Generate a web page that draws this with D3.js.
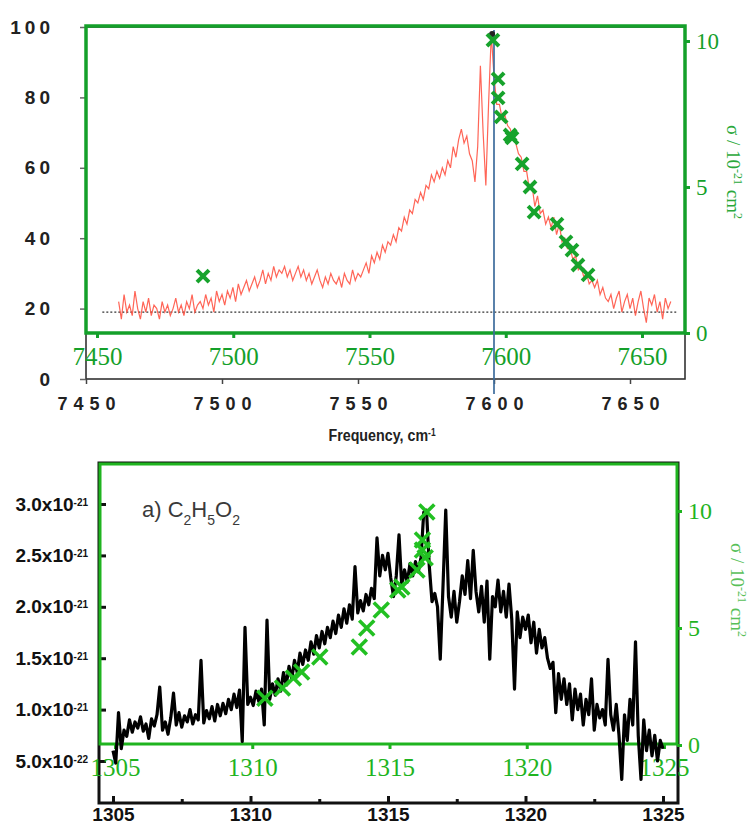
<!DOCTYPE html>
<html><head><meta charset="utf-8">
<script src="https://cdn.jsdelivr.net/npm/d3@7"></script>
<style>
body{margin:0;background:#fff}
svg{display:block}
</style></head><body>
<svg id="chart" width="749" height="825"></svg>
<script>
// ---- top panel: NIR spectrum (arb. units) + cross sections ----
const topYTicks = [0, 20, 40, 60, 80, 100]
const topFreqTicks = [7450, 7500, 7550, 7600, 7650]
const sigmaTicks = [0, 5, 10]
const redStart = 7462   // cm-1, one value per cm-1
const redValues = [
  22, 17, 24, 19, 21, 18, 25, 20, 17, 22,
  19, 23, 18, 21, 20, 17, 22, 19, 21, 18,
  20, 23, 19, 21, 18, 22, 20, 24, 19, 21,
  22, 20, 24, 21, 23, 19, 25, 22, 24, 21,
  25, 23, 26, 22, 27, 24, 26, 28, 25, 27,
  29, 26, 28, 31, 27, 30, 28, 32, 29, 31,
  30, 32, 29, 31, 28, 30, 32, 29, 31, 28,
  30, 27, 29, 31, 28, 26, 29, 27, 30, 28,
  27, 29, 26, 30, 28, 27, 31, 28, 30, 29,
  31, 33, 30, 35, 33, 36, 34, 38, 36, 39,
  38, 41, 39, 43, 42, 46, 44, 48, 47, 51,
  50, 53, 51, 55, 54, 58, 56, 59, 57, 60,
  58, 62, 60, 66, 63, 68, 71, 67, 69, 64,
  62, 56, 66, 89, 70, 55, 78, 98, 86, 78,
  78, 74, 75, 72, 71, 68, 67, 64, 63, 59,
  59, 54, 55, 49, 52, 47, 48, 44, 46, 43,
  46, 41, 44, 39, 40, 37, 37, 34, 35, 31,
  32, 29, 30, 27, 28, 26, 28, 24, 26, 23,
  22, 24, 20, 23, 25, 19, 22, 24, 20, 23,
  18, 22, 25, 20, 16, 23, 21, 24, 19, 22,
  17, 23, 20, 22
]
const baselineLevel = 19
const markerFreq = 7600
const peakDot = {f: 7599.3, v: 98}
const topCrossFreq = [7488.9, 7595.3, 7597.2, 7597.2, 7598.3, 7601.6, 7602.3, 7606.0, 7608.9, 7610.4, 7618.8, 7622.1, 7624.3, 7626.5, 7630.2]
const topCrossSigma = [1.95, 10.03, 8.7, 8.05, 7.4, 6.78, 6.68, 5.79, 5.0, 4.14, 3.73, 3.12, 2.84, 2.33, 1.99]

// ---- bottom panel: mid-IR spectrum (1e-21 cm2) + cross sections ----
const botYTicks = [0.5, 1.0, 1.5, 2.0, 2.5, 3.0]
const botYLabels = [["5.0", "-22"], ["1.0", "-21"], ["1.5", "-21"], ["2.0", "-21"], ["2.5", "-21"], ["3.0", "-21"]]
const botFreqTicks = [1305, 1310, 1315, 1320, 1325]
const botMinorTicks = [1307.5, 1312.5, 1317.5, 1322.5]
const blackStart = 1305, blackStep = 0.1
const blackValues = [
  0.60, 0.48, 0.97, 0.62, 0.80, 0.74, 0.90, 0.78, 0.88, 0.82,
  0.93, 0.79, 0.86, 0.72, 0.91, 0.84, 0.95, 1.22, 0.80, 0.88,
  0.76, 0.92, 1.16, 0.85, 0.97, 0.83, 0.94, 0.88, 1.00, 0.86,
  0.95, 0.90, 1.48, 0.87, 0.99, 0.91, 1.03, 0.89, 1.05, 0.94,
  1.06, 0.96, 1.10, 1.00, 1.15, 1.02, 1.19, 0.69, 1.80, 1.05,
  1.12, 1.04, 1.18, 1.08, 1.20, 0.85, 1.87, 1.10, 1.25, 1.14,
  1.30, 1.18, 1.36, 1.24, 1.42, 1.30, 1.48, 1.36, 1.55, 1.44,
  1.58, 1.48, 1.66, 1.54, 1.72, 1.60, 1.76, 1.64, 1.80, 1.70,
  1.86, 1.74, 1.92, 1.80, 1.98, 1.84, 2.02, 1.88, 2.39, 1.94,
  2.06, 1.96, 2.12, 2.02, 2.18, 2.08, 2.67, 2.30, 2.50, 2.36,
  2.52, 2.28, 2.10, 2.30, 2.70, 2.20, 2.36, 2.24, 2.42, 2.30,
  2.44, 2.34, 2.48, 2.92, 2.94, 2.40, 2.05, 2.13, 2.00, 1.49,
  2.20, 2.94, 2.10, 1.90, 2.15, 1.85, 2.05, 2.30, 2.12, 2.45,
  2.08, 2.55, 2.15, 1.95, 2.20, 1.85, 2.25, 1.49, 2.10, 2.00,
  2.26, 1.95, 2.15, 1.90, 2.22, 1.88, 1.20, 1.95, 1.70, 1.90,
  1.78, 1.92, 1.65, 1.85, 1.55, 1.78, 1.60, 1.70, 1.50, 1.40,
  1.46, 0.97, 1.35, 1.10, 1.30, 1.05, 1.25, 0.90, 1.20, 1.00,
  1.15, 0.85, 1.10, 0.95, 1.30, 0.80, 1.05, 0.92, 1.00, 0.85,
  1.49, 0.95, 0.80, 1.05, 0.75, 0.32, 0.95, 0.70, 1.10, 0.85,
  1.66, 0.75, 0.32, 0.90, 0.60, 0.80, 0.55, 0.75, 0.50, 0.70,
  0.62
]
const botCrossFreq = [1310.46, 1311.1, 1311.5, 1311.8, 1312.46, 1313.9, 1314.17, 1314.7, 1315.3, 1315.45, 1316.0, 1316.3, 1316.2, 1316.2, 1316.36]
const botCrossSigma = [2.0, 2.44, 2.86, 3.12, 3.76, 4.19, 5.0, 5.77, 6.62, 6.75, 7.48, 8.0, 8.33, 8.76, 9.96]

const svg = d3.select('#chart')
const serif = "'Liberation Serif','Times New Roman',serif"
const sans = "'Liberation Sans',Arial,sans-serif"
const greenTop = '#14a02a', greenBot = '#1fb41f'

svg.append('rect').attr('width', 749).attr('height', 825).attr('fill', '#fff')

function crossPath(half){
    return 'M' + (-half) + ',' + (-half) + 'L' + half + ',' + half + 'M' + (-half) + ',' + half + 'L' + half + ',' + (-half)
}

function styleAxis(g, font, size, color, weight){
    g.select('.domain').remove()
    g.selectAll('.tick line').attr('stroke', color)
    g.selectAll('.tick text')
        .attr('fill', color)
        .style('font-family', font)
        .style('font-size', size + 'px')
        .style('font-weight', weight || 'normal')
}

// ================= TOP PANEL =================
const xTopBlack = d3.scaleLinear().domain([7450, 7650]).range([86, 630])
const yTopBlack = d3.scaleLinear().domain([0, 100]).range([379, 27])
const xTopGreen = d3.scaleLinear().domain([7450, 7650]).range([97, 642])
const yTopSigma = d3.scaleLinear().domain([0, 10]).range([333, 41])

// black frame underneath
svg.append('rect')
    .attr('x', 86).attr('y', 27).attr('width', 599).attr('height', 352)
    .attr('fill', 'none').attr('stroke', '#333').attr('stroke-width', 1.6)

const gTopY = svg.append('g').attr('transform', 'translate(86,0)')
    .call(d3.axisLeft(yTopBlack).tickValues(topYTicks).tickSize(6).tickPadding(26))
styleAxis(gTopY, sans, 19, '#222', 'bold')
gTopY.selectAll('.tick line').attr('stroke', '#666').attr('stroke-width', 1.5)
gTopY.selectAll('.tick text').style('letter-spacing', '4px')

const gTopX = svg.append('g').attr('transform', 'translate(0,379)')
    .call(d3.axisBottom(xTopBlack).tickValues(topFreqTicks).tickFormat(d3.format('d')).tickSize(5).tickPadding(13))
styleAxis(gTopX, sans, 18, '#222', 'bold')
gTopX.selectAll('.tick line').attr('stroke', '#444').attr('stroke-width', 1.5)
gTopX.selectAll('.tick text').style('letter-spacing', '6px').attr('dx', '3px')

const freqTitle = svg.append('text')
    .attr('transform', 'translate(382,441) scale(0.84,1)')
    .attr('text-anchor', 'middle')
    .style('font-family', sans).style('font-size', '17px').style('font-weight', 'bold')
    .attr('fill', '#222')
freqTitle.append('tspan').text('Frequency, cm')
freqTitle.append('tspan').attr('baseline-shift', 'super').style('font-size', '10px').text('-1')

// green frame
svg.append('rect')
    .attr('x', 86).attr('y', 26).attr('width', 599).attr('height', 307)
    .attr('fill', 'none').attr('stroke', greenTop).attr('stroke-width', 3.5)

const gTopGX = svg.append('g').attr('transform', 'translate(0,333)')
    .call(d3.axisBottom(xTopGreen).tickValues(topFreqTicks).tickFormat(d3.format('d')).tickSize(5).tickPadding(9))
styleAxis(gTopGX, serif, 25, greenTop)
gTopGX.selectAll('.tick line').attr('stroke-width', 3)

const gTopS = svg.append('g').attr('transform', 'translate(685,0)')
    .call(d3.axisRight(yTopSigma).tickValues(sigmaTicks).tickSize(5).tickPadding(6))
styleAxis(gTopS, serif, 23, greenTop)
gTopS.selectAll('.tick line').attr('stroke-width', 3)

function sigmaTitle(x, y, color){
    const t = svg.append('text')
        .attr('transform', 'translate(' + x + ',' + y + ') rotate(90)')
        .attr('text-anchor', 'middle')
        .style('font-family', serif).style('font-size', '19px')
        .attr('fill', color)
    t.append('tspan').text('σ / 10')
    t.append('tspan').attr('baseline-shift', 'super').style('font-size', '12px').text('-21')
    t.append('tspan').text(' cm')
    t.append('tspan').attr('baseline-shift', 'super').style('font-size', '12px').text('2')
}
sigmaTitle(727, 172, '#2aa83a')

// dotted baseline
svg.append('line')
    .attr('x1', xTopBlack(7456)).attr('x2', xTopBlack(7667))
    .attr('y1', yTopBlack(baselineLevel)).attr('y2', yTopBlack(baselineLevel))
    .attr('stroke', '#333').attr('stroke-width', 1.2).attr('stroke-dasharray', '2,2')

// red spectrum
const redLine = d3.line()
    .x((d, i) => xTopBlack(redStart + i))
    .y(d => yTopBlack(d))
svg.append('path').datum(redValues)
    .attr('d', redLine)
    .attr('fill', 'none').attr('stroke', '#ff4a3a').attr('stroke-opacity', 0.85).attr('stroke-width', 1.2)

// vertical marker
svg.append('line')
    .attr('x1', xTopBlack(markerFreq)).attr('x2', xTopBlack(markerFreq))
    .attr('y1', 30).attr('y2', 394)
    .attr('stroke', '#3d6c9c').attr('stroke-width', 1.7)

svg.append('circle')
    .attr('cx', xTopBlack(peakDot.f)).attr('cy', yTopBlack(peakDot.v)).attr('r', 3)
    .attr('fill', '#222')

svg.append('g').selectAll('path')
    .data(topCrossFreq.map((f, i) => [f, topCrossSigma[i]]))
    .join('path')
    .attr('transform', d => 'translate(' + xTopGreen(d[0]) + ',' + yTopSigma(d[1]) + ')')
    .attr('d', crossPath(6))
    .attr('fill', 'none').attr('stroke', '#17a32c').attr('stroke-width', 4)

// ================= BOTTOM PANEL =================
const xBot = d3.scaleLinear().domain([1305, 1325]).range([113, 663])
const xBotGreen = d3.scaleLinear().domain([1305, 1325]).range([115, 664])
const yBot = d3.scaleLinear().domain([0.5, 3.0]).range([761, 504])
const yBotSigma = d3.scaleLinear().domain([0, 10]).range([745, 511])

svg.append('rect')
    .attr('x', 99).attr('y', 463).attr('width', 579).attr('height', 340)
    .attr('fill', 'none').attr('stroke', '#111').attr('stroke-width', 3)

const gBotY = svg.append('g').attr('transform', 'translate(99,0)')
    .call(d3.axisLeft(yBot).tickValues(botYTicks).tickSizeInner(-7).tickSizeOuter(0).tickPadding(11))
styleAxis(gBotY, sans, 19, '#111', 'bold')
gBotY.selectAll('.tick line').attr('stroke-width', 3)
gBotY.selectAll('.tick text').each(function(d, i){
    const t = d3.select(this).text(null)
    t.append('tspan').text(botYLabels[i][0] + 'x10')
    t.append('tspan').attr('baseline-shift', 'super').style('font-size', '10px').text(botYLabels[i][1])
})

const gBotX = svg.append('g').attr('transform', 'translate(0,803)')
    .call(d3.axisBottom(xBot).tickValues(botFreqTicks).tickFormat(d3.format('d')).tickSizeInner(-7).tickSizeOuter(0).tickPadding(5))
styleAxis(gBotX, sans, 19, '#111', 'bold')
gBotX.selectAll('.tick line').attr('stroke-width', 3)

const gBotMinor = svg.append('g').attr('transform', 'translate(0,803)')
    .call(d3.axisBottom(xBot).tickValues(botMinorTicks).tickFormat('').tickSizeInner(-4).tickSizeOuter(0))
gBotMinor.select('.domain').remove()
gBotMinor.selectAll('.tick line').attr('stroke', '#111').attr('stroke-width', 3)

svg.append('rect')
    .attr('x', 100).attr('y', 464).attr('width', 577).attr('height', 280)
    .attr('fill', 'none').attr('stroke', greenBot).attr('stroke-width', 3)

const gBotGX = svg.append('g').attr('transform', 'translate(0,744)')
    .call(d3.axisBottom(xBotGreen).tickValues(botFreqTicks).tickFormat(d3.format('d')).tickSize(5).tickPadding(9))
styleAxis(gBotGX, serif, 25, greenBot)
gBotGX.selectAll('.tick line').attr('stroke-width', 3)

const gBotS = svg.append('g').attr('transform', 'translate(677,0)')
    .call(d3.axisRight(yBotSigma).tickValues(sigmaTicks).tickSize(5).tickPadding(6))
styleAxis(gBotS, serif, 24, greenBot)
gBotS.selectAll('.tick line').attr('stroke-width', 3)

sigmaTitle(731, 590, '#58c058')

const lbl = svg.append('text')
    .attr('x', 142).attr('y', 517)
    .style('font-family', sans).style('font-size', '22px')
    .attr('fill', '#3a3a3a')
lbl.append('tspan').text('a) C')
lbl.append('tspan').attr('baseline-shift', 'sub').style('font-size', '14px').text('2')
lbl.append('tspan').text('H')
lbl.append('tspan').attr('baseline-shift', 'sub').style('font-size', '14px').text('5')
lbl.append('tspan').text('O')
lbl.append('tspan').attr('baseline-shift', 'sub').style('font-size', '14px').text('2')

// black spectrum
const blackLine = d3.line()
    .x((d, i) => xBot(blackStart + i * blackStep))
    .y(d => yBot(d))
svg.append('path').datum(blackValues)
    .attr('d', blackLine)
    .attr('fill', 'none').attr('stroke', '#000').attr('stroke-width', 3.2).attr('stroke-linejoin', 'round')

svg.append('g').selectAll('path')
    .data(botCrossFreq.map((f, i) => [f, botCrossSigma[i]]))
    .join('path')
    .attr('transform', d => 'translate(' + xBotGreen(d[0]) + ',' + yBotSigma(d[1]) + ')')
    .attr('d', crossPath(7.5))
    .attr('fill', 'none').attr('stroke', '#22c022').attr('stroke-width', 3.6)
</script>
</body></html>
